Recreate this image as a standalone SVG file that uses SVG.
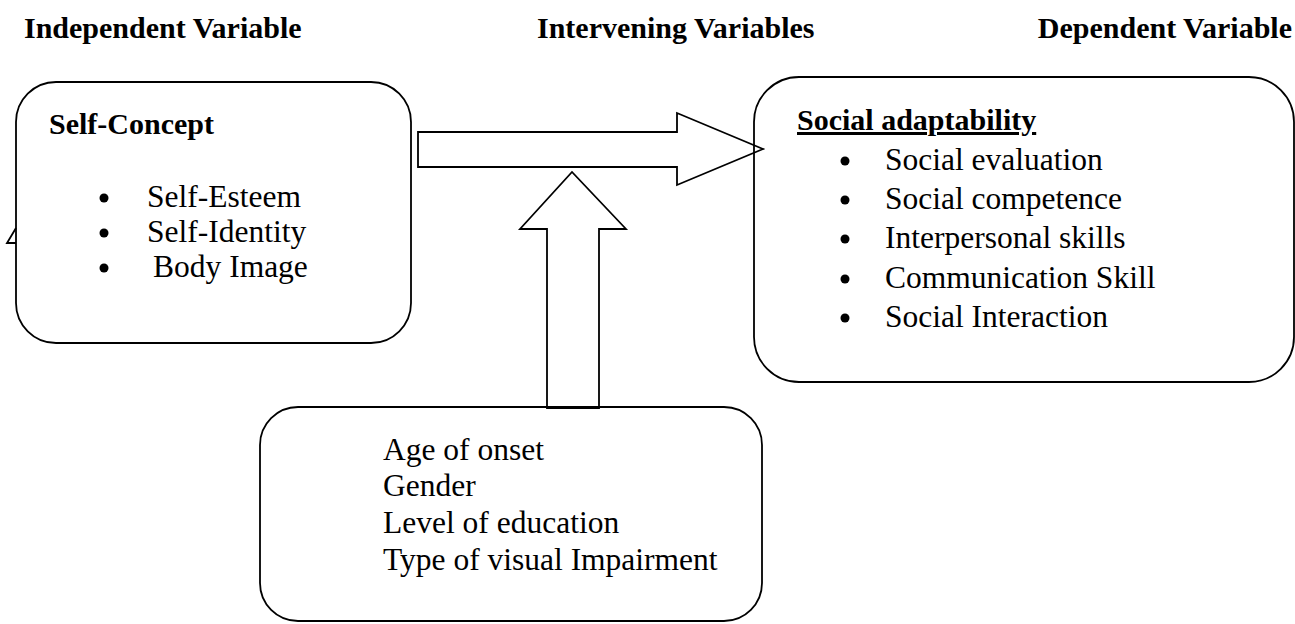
<svg xmlns="http://www.w3.org/2000/svg" width="1295" height="624" viewBox="0 0 1295 624">
  <style>
    text { font-family: "Liberation Serif", "Times New Roman", serif; font-size: 31.5px; fill: #000; }
    .hd { font-weight: bold; font-size: 30px; }
    .box { fill: none; stroke: #000; stroke-width: 1.8; }
    .arrow { fill: #fff; stroke: #000; stroke-width: 1.8; stroke-linejoin: miter; }
  </style>
  <rect width="1295" height="624" fill="#fff"/>

  <!-- column headings -->
  <g id="headings">
    <text class="hd" x="24" y="38">Independent Variable</text>
    <text class="hd" x="537" y="38">Intervening Variables</text>
    <text class="hd" x="1292" y="38" text-anchor="end">Dependent Variable</text>
  </g>

  <!-- connectors: block arrows -->
  <g id="connectors">
    <path class="arrow" d="M16,228 L7,243 L16,243"/>
    <path class="arrow" d="M418,132 L677,132 L677,113 L763,149 L677,185 L677,167 L418,167 Z"/>
    <path class="arrow" d="M547,408 L547,229 L520,229 L572,172 L626,229 L599,229 L599,408 Z"/>
  </g>

  <g id="self-concept">
    <rect class="box" x="16" y="82" width="395" height="261" rx="40" ry="40"/>
    <text class="hd" x="49" y="134">Self-Concept</text>
    <circle cx="104" cy="198" r="4.5"/>
    <text x="147" y="207">Self-Esteem</text>
    <circle cx="104" cy="233" r="4.5"/>
    <text x="147" y="242">Self-Identity</text>
    <circle cx="104" cy="268" r="4.5"/>
    <text x="153" y="277">Body Image</text>
  </g>

  <g id="social-adaptability">
    <rect class="box" x="754" y="77" width="540" height="305" rx="45" ry="45"/>
    <text class="hd" x="797" y="130" text-decoration="underline">Social adaptability</text>
    <circle cx="845" cy="161" r="4.5"/>
    <text x="885" y="170">Social evaluation</text>
    <circle cx="845" cy="200" r="4.5"/>
    <text x="885" y="209">Social competence</text>
    <circle cx="845" cy="239" r="4.5"/>
    <text x="885" y="248">Interpersonal skills</text>
    <circle cx="845" cy="279" r="4.5"/>
    <text x="885" y="288">Communication Skill</text>
    <circle cx="845" cy="318" r="4.5"/>
    <text x="885" y="327">Social Interaction</text>
  </g>

  <g id="intervening">
    <rect class="box" x="260" y="407" width="502" height="214" rx="38" ry="38"/>
    <text x="383" y="460">Age of onset</text>
    <text x="383" y="496">Gender</text>
    <text x="383" y="533">Level of education</text>
    <text x="383" y="570">Type of visual Impairment</text>
  </g>
</svg>
